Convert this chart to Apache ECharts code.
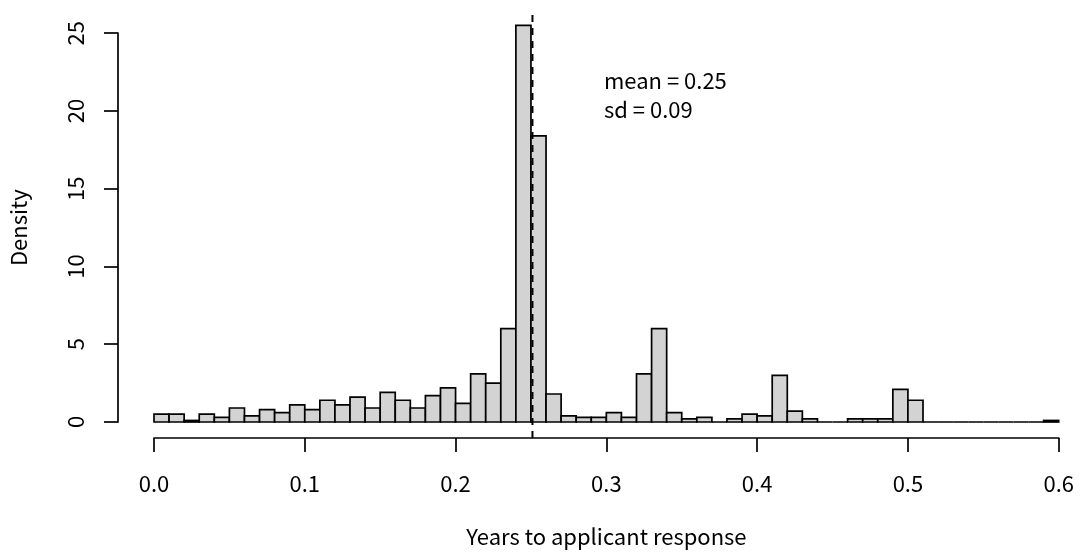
<!DOCTYPE html>
<html><head><meta charset="utf-8">
<script src="https://cdn.jsdelivr.net/npm/echarts@6/dist/echarts.min.js"></script>
<style>html,body{margin:0;padding:0;background:#fff}#c{width:1080px;height:553px}</style>
</head><body><div id="c"></div>
<script>
// histogram bins (start of each 0.01-wide bin)
const binStarts = [0.00,0.01,0.02,0.03,0.04,0.05,0.06,0.07,0.08,0.09,
  0.10,0.11,0.12,0.13,0.14,0.15,0.16,0.17,0.18,0.19,
  0.20,0.21,0.22,0.23,0.24,0.25,0.26,0.27,0.28,0.29,
  0.30,0.31,0.32,0.33,0.34,0.35,0.36,0.37,0.38,0.39,
  0.40,0.41,0.42,0.43,0.44,0.45,0.46,0.47,0.48,0.49,
  0.50,0.51,0.52,0.53,0.54,0.55,0.56,0.57,0.58,0.59];
const binWidth = 0.01;
const density = [0.5,0.5,0.1,0.5,0.3,0.9,0.4,0.8,0.6,1.1,
  0.8,1.4,1.1,1.6,0.9,1.9,1.4,0.9,1.7,2.2,
  1.2,3.1,2.5,6.0,25.5,18.4,1.8,0.4,0.3,0.3,
  0.6,0.3,3.1,6.0,0.6,0.2,0.3,0,0.2,0.5,
  0.4,3.0,0.7,0.2,0,0,0.2,0.2,0.2,2.1,
  1.4,0,0,0,0,0,0,0,0,0.1];
const meanValue = 0.251;
const meanLabel = 'mean = 0.25';
const sdLabel = 'sd = 0.09';
const xTickLabels = ['0.0','0.1','0.2','0.3','0.4','0.5','0.6'];
const yTickValues = [0,5,10,15,20,25];

const FONT = '"Noto Sans CJK KR", "Noto Sans", sans-serif';
const FS = 22;
const histData = binStarts.map((s,i)=>[s, +(s+binWidth).toFixed(2), density[i]]);

const chart = echarts.init(document.getElementById('c'), null, {renderer:'canvas'});
chart.setOption({
  animation:false,
  backgroundColor:'#fff',
  textStyle:{fontFamily:FONT},
  grid:{left:153.3, right:21.3, top:33.2, bottom:130.3, containLabel:false},
  xAxis:{type:'value', min:0, max:0.6, interval:0.1, offset:16,
    axisLine:{show:true, onZero:false, lineStyle:{color:'#000', width:1.7}},
    axisTick:{show:true, length:14, lineStyle:{color:'#000', width:1.7}},
    axisLabel:{color:'#000', fontSize:FS, fontFamily:FONT, margin:35,
      formatter:(v)=>xTickLabels[Math.round(v*10)]},
    splitLine:{show:false},
    name:'Years to applicant response', nameLocation:'middle', nameGap:88,
    nameMoveOverlap:false,
    nameTextStyle:{color:'#000', fontSize:FS, fontFamily:FONT}},
  yAxis:{type:'value', min:yTickValues[0], max:yTickValues[yTickValues.length-1], interval:5, offset:36,
    axisLine:{show:true, onZero:false, lineStyle:{color:'#000', width:1.7}},
    axisTick:{show:true, length:14, lineStyle:{color:'#000', width:1.7}},
    axisLabel:{color:'#000', fontSize:FS, fontFamily:FONT, rotate:90, margin:31},
    splitLine:{show:false},
    name:'Density', nameLocation:'middle', nameRotate:90, nameGap:88,
    nameMoveOverlap:false,
    nameTextStyle:{color:'#000', fontSize:FS, fontFamily:FONT}},
  series:[
    {type:'custom', data:histData, clip:false, z:2,
     renderItem:(params, api)=>{
       const p0 = api.coord([api.value(0), 0]);
       const p1 = api.coord([api.value(1), api.value(2)]);
       return {type:'rect',
         shape:{x:p0[0], y:p1[1], width:p1[0]-p0[0], height:p0[1]-p1[1]},
         style:{fill:'#d3d3d3', stroke:'#000', lineWidth:1.7}};
     }},
    {type:'line', data:[[meanValue,-1.03],[meanValue,26.49]], clip:false, z:3,
     symbol:'none', silent:true,
     lineStyle:{color:'#000', width:2, type:[7,6]}}
  ],
  graphic:[
    {type:'text', left:604, top:70, style:{text:meanLabel, fill:'#000', font:FS+'px '+FONT}},
    {type:'text', left:604, top:99, style:{text:sdLabel, fill:'#000', font:FS+'px '+FONT}}
  ]
});
</script></body></html>
